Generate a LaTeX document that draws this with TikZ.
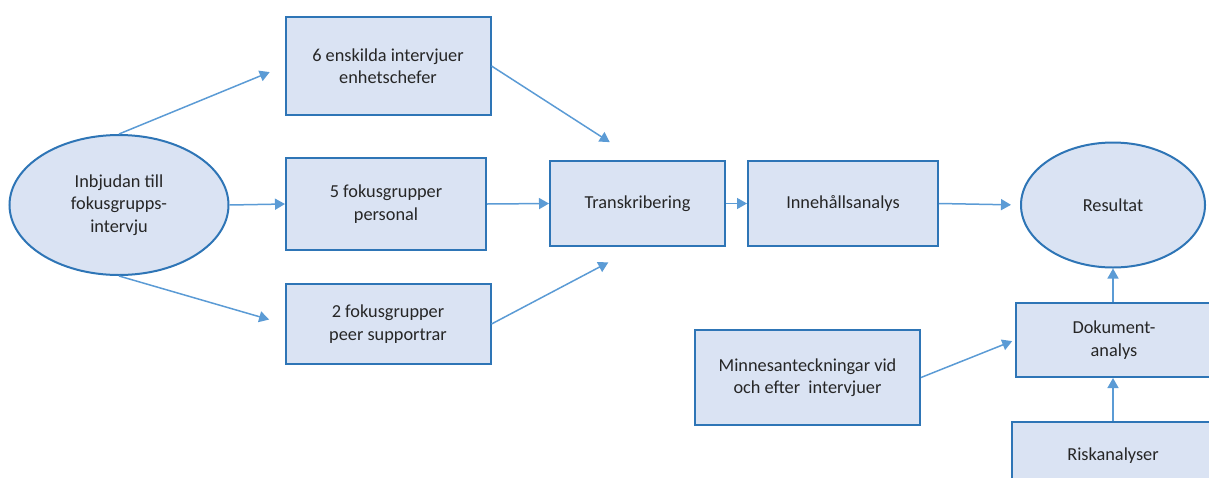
\documentclass[tikz,border=0pt]{standalone}
\usepackage{fontspec}
\setmainfont{Carlito}
\usetikzlibrary{shapes.geometric, arrows.meta}
\definecolor{boxfill}{HTML}{DAE3F3}
\definecolor{boxline}{HTML}{2E75B6}
\definecolor{arrowline}{HTML}{5B9BD5}
\definecolor{textgray}{HTML}{262626}
\tikzstyle{startstop} = [
    ellipse,
    inner sep=0pt,
    align=center,
    text=textgray,
    fill=boxfill,
    draw=boxline,
    line width=2pt
]
\tikzstyle{process} = [
    rectangle,
    inner sep=0pt,
    align=center,
    text=textgray,
    fill=boxfill,
    draw=boxline,
    line width=2pt
]
\tikzstyle{arrow} = [line width=1.5pt, draw=arrowline, ->, >={Triangle[length=10pt,width=11pt]}]

\begin{document}
\begin{tikzpicture}[x=1pt, y=-1pt, font=\fontsize{18.3}{22.5}\selectfont]

\useasboundingbox (0,0) rectangle (1209,477);

\node (invite) [startstop, minimum width=219pt, minimum height=140pt] at (119,205)
{Inbjudan till\\fokusgrupps-\\intervju};

\node (single) [process, minimum width=205pt, minimum height=98pt] at (388,66)
{6 enskilda intervjuer\\enhetschefer};

\node (staff) [process, minimum width=200pt, minimum height=92pt] at (386,204)
{5 fokusgrupper\\personal};

\node (peer) [process, minimum width=205pt, minimum height=80pt] at (388,324)
{2 fokusgrupper\\peer supportrar};

\node (transcr) [process, minimum width=175pt, minimum height=85pt] at (637.5,203.5)
{Transkribering};

\node (content) [process, minimum width=190pt, minimum height=85pt] at (843,203.5)
{Innehållsanalys};

\node (result) [startstop, minimum width=184pt, minimum height=125pt] at (1113,205)
{Resultat};

\node (docs) [process, minimum width=196pt, minimum height=74pt] at (1114,340)
{Dokument-\\analys};

\node (notes) [process, minimum width=225pt, minimum height=95pt] at (807.5,377.5)
{Minnesanteckningar vid\\och efter~ intervjuer};

\node (risk) [process, minimum width=202pt, minimum height=64pt, text depth=0pt] at (1113,454)
{Riskanalyser};

\draw [arrow, shorten >=16pt] (invite.north) -- (single.west);
\draw [arrow] (invite.east) -- (staff.west);
\draw [arrow, shorten >=16pt] (invite.south) -- (peer.west);
\draw [arrow, shorten >=33pt] (single.east) -- (transcr.north);
\draw [arrow] (staff.east) -- (transcr.west);
\draw [arrow, shorten >=33pt] (peer.east) -- (transcr.south);
\draw [arrow] (transcr.east) -- (content.west);
\draw [arrow, shorten >=9pt] (content.east) -- (result.west);
\draw [arrow] (docs.north -| result.south) -- (result.south);
\draw [arrow, shorten >=3pt] (notes.east) -- (docs.west);
\draw [arrow] (risk.north) -- (risk.north |- docs.south);

\end{tikzpicture}
\end{document}
